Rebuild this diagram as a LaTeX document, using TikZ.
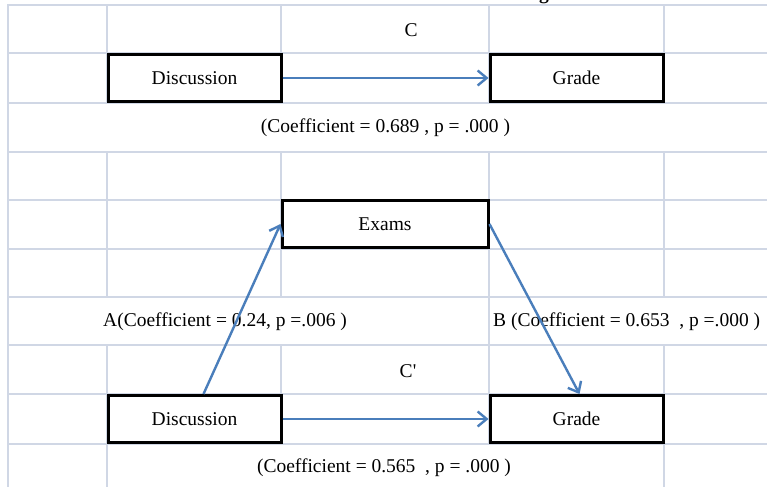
\documentclass[tikz,border=0pt]{standalone}
\usepackage{fontspec}
\setmainfont{Liberation Serif}
\usetikzlibrary{arrows.meta,calc}
\definecolor{gridc}{RGB}{208,215,229}
\definecolor{arrowc}{RGB}{74,126,187}
\begin{document}
\begin{tikzpicture}[x=1pt,y=-1pt,
  cellbox/.style={draw=black, line width=3pt, fill=white, minimum width=173pt,
    minimum height=47pt, inner sep=0pt, font=\fontsize{19.5}{22}\selectfont},
  lbl/.style={inner sep=0pt, font=\fontsize{19.5}{22}\selectfont},
  link/.style={draw=arrowc, line width=2.4pt, -{Straight Barb[length=9pt,width=15pt]}},
  gridline/.style={draw=gridc, line width=2pt}]
\clip (0,0) rectangle (767,487);
\fill[white] (0,0) rectangle (767,487);

% spreadsheet grid: rows
\foreach \y in {5,53,103,152,200,249,297,345,394,444}
  \draw[gridline] (7,\y) -- (767,\y);
% spreadsheet grid: columns (merged cells leave gaps)
\draw[gridline] (8,5) -- (8,487);
\draw[gridline] (107,5) -- (107,103) (107,152) -- (107,297) (107,345) -- (107,487);
\draw[gridline] (281,5) -- (281,103) (281,152) -- (281,297) (281,345) -- (281,444);
\draw[gridline] (489,5) -- (489,103) (489,152) -- (489,444);
\draw[gridline] (664,5) -- (664,103) (664,152) -- (664,297) (664,345) -- (664,487);

% heading (descender only)
\node[inner sep=0pt, anchor=base, font=\bfseries\fontsize{19.5}{22}\selectfont] (title) at (544,0) {g};

% total effect
\node[lbl] (clabel) at (411,30) {C};
\node[cellbox] (d1) at (194.5,78) {Discussion};
\node[cellbox] (g1) at (576.5,78) {Grade};
\node[lbl] (coefc) at (385.5,128) {(Coefficient = 0.689 , p = .000 )};
\draw[link] (d1.east) -- (g1.west);

% mediated model
\node[cellbox, minimum width=206pt] (ex) at (385,224) {Exams};
\node[cellbox] (d2) at (194.5,419) {Discussion};
\node[cellbox] (g2) at (576.5,419) {Grade};
\node[lbl] (cplabel) at (408,371) {C\textquotesingle};
\node[lbl, anchor=west] (alabel) at (103,322) {A(Coefficient = 0.24, p =.006 )};
\node[lbl, anchor=west] (blabel) at (493,322) {B (Coefficient = 0.653\ \ , p =.000 )};
\node[lbl] (coefcp) at (384,468) {(Coefficient = 0.565\ \ , p = .000 )};

\draw[link] ($(d2.north)+(9,0)$) -- (ex.west);
\draw[link] (ex.east) -- ($(g2.north)+(3,0)$);
\draw[link] (d2.east) -- (g2.west);
\end{tikzpicture}
\end{document}
